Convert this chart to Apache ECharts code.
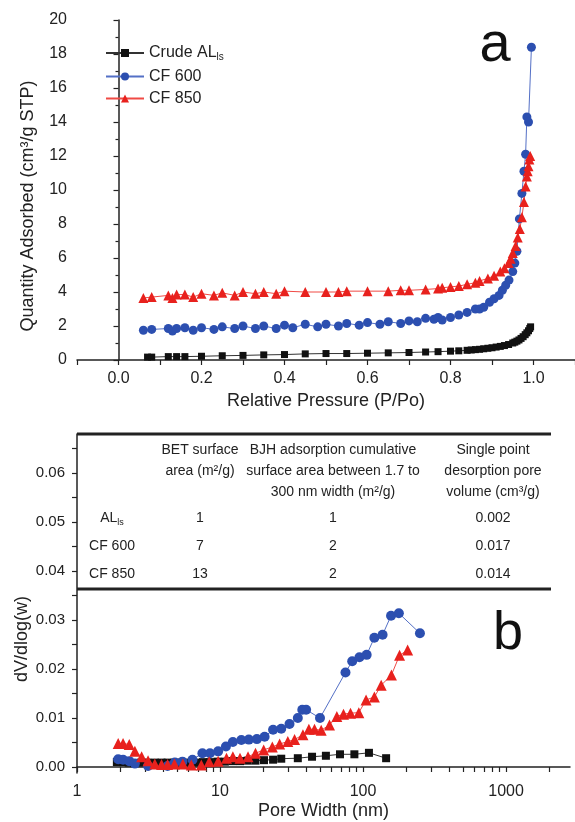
<!DOCTYPE html>
<html>
<head>
<meta charset="utf-8">
<script src="https://cdn.jsdelivr.net/npm/echarts@6/dist/echarts.min.js"></script>
<style>
  html, body { margin: 0; padding: 0; background: #fff; }
  #chart { width: 575px; height: 822px; }
</style>
</head>
<body>
<div id="chart"></div>
<script>
// --- (a) N2 isotherm: relative pressure vs quantity adsorbed
const crudeP = [0.07,0.08,0.12,0.14,0.16,0.20,0.25,0.30,0.35,0.40,0.45,0.50,0.55,0.60,0.65,0.70,0.74,0.77,0.80,0.82,0.84,0.85,0.86,0.87,0.88,0.89,0.90,0.91,0.92,0.93,0.94,0.95,0.955,0.96,0.965,0.97,0.975,0.98,0.984,0.988,0.991,0.993];
const crudeQ = [0.17,0.17,0.2,0.2,0.2,0.22,0.25,0.27,0.3,0.32,0.36,0.38,0.38,0.4,0.42,0.44,0.47,0.49,0.52,0.54,0.57,0.59,0.61,0.63,0.66,0.69,0.72,0.76,0.80,0.85,0.91,1.0,1.05,1.11,1.18,1.27,1.37,1.49,1.6,1.72,1.85,1.95];
const cf600P = [0.06,0.08,0.12,0.13,0.14,0.16,0.18,0.20,0.23,0.25,0.28,0.30,0.33,0.35,0.38,0.40,0.42,0.45,0.48,0.50,0.53,0.55,0.58,0.60,0.63,0.65,0.68,0.70,0.72,0.74,0.76,0.77,0.78,0.80,0.82,0.84,0.86,0.87,0.88,0.894,0.905,0.917,0.925,0.933,0.941,0.95,0.955,0.96,0.966,0.972,0.977,0.981,0.984,0.988,0.995];
const cf600Q = [1.75,1.8,1.85,1.7,1.85,1.9,1.75,1.9,1.8,1.95,1.85,2.0,1.85,2.0,1.85,2.05,1.9,2.1,1.95,2.1,2.0,2.15,2.05,2.2,2.1,2.25,2.15,2.3,2.25,2.45,2.4,2.5,2.35,2.5,2.65,2.8,3.0,3.0,3.1,3.4,3.6,3.8,4.1,4.4,4.7,5.2,5.7,6.4,8.3,9.8,11.1,12.1,14.3,14.0,18.4];
const cf850P = [0.06,0.08,0.12,0.13,0.14,0.16,0.18,0.20,0.23,0.25,0.28,0.30,0.33,0.35,0.38,0.40,0.45,0.50,0.53,0.55,0.60,0.65,0.68,0.70,0.74,0.77,0.78,0.80,0.82,0.84,0.86,0.87,0.89,0.905,0.92,0.93,0.94,0.945,0.95,0.957,0.962,0.967,0.972,0.977,0.981,0.984,0.986,0.988,0.99,0.992];
const cf850Q = [3.65,3.7,3.8,3.65,3.85,3.85,3.7,3.9,3.8,3.95,3.8,4.0,3.9,4.0,3.9,4.05,4.0,4.0,4.0,4.05,4.05,4.05,4.1,4.1,4.15,4.2,4.25,4.3,4.35,4.45,4.55,4.65,4.8,4.95,5.2,5.4,5.7,5.95,6.3,6.7,7.2,7.7,8.4,9.3,10.2,10.8,11.1,11.4,11.8,12.0];

// --- (b) BJH pore size distribution: pore width (nm) vs dV/dlog(w)
const crudeW = [1.9,2.1,2.3,2.5,2.8,3.1,3.5,3.9,4.3,4.8,5.4,6.1,6.8,7.6,8.5,9.6,10.8,12.2,13.8,15.6,17.7,20.3,23.5,26.8,35,44,55,69,87,110,145];
const crudeDv = [0.0010,0.0010,0.0009,0.0008,0.0009,0.0009,0.0009,0.0009,0.0009,0.0009,0.0009,0.0009,0.0009,0.0010,0.0010,0.0011,0.0011,0.0012,0.0012,0.0013,0.0013,0.0014,0.0015,0.0017,0.0018,0.0021,0.0023,0.0026,0.0026,0.0029,0.0018];
const cf600W = [1.94,2.1,2.32,2.54,3.14,4.3,4.83,5.46,6.42,7.53,8.5,9.7,11.0,12.3,14.1,15.9,18.1,20.5,23.5,26.8,30.6,35,37.6,40,50,75.4,84,94.4,106,120,137,157,178,250];
const cf600Dv = [0.0016,0.0015,0.0012,0.0007,0.0002,0.0002,0.0009,0.0011,0.0015,0.0028,0.0028,0.0032,0.0042,0.0051,0.0055,0.0056,0.0057,0.0062,0.0076,0.0078,0.0088,0.0100,0.0117,0.0117,0.0100,0.0193,0.0216,0.0224,0.0229,0.0264,0.0270,0.0309,0.0314,0.0273];
const cf850W = [1.94,2.1,2.32,2.54,2.83,3.14,3.5,3.9,4.3,4.8,5.5,6.3,7.4,8.4,9.7,11.1,12.3,13.8,15.7,17.7,20.2,23.2,26.1,29.8,33.2,38,41.8,45.8,51,58.3,65.6,73,81.7,93.4,105,120,134,158,180,205];
const cf850Dv = [0.0048,0.0048,0.0046,0.0032,0.0021,0.0013,0.0006,0.0005,0.0005,0.0006,0.0006,0.0004,0.0004,0.0011,0.0012,0.0018,0.0021,0.0018,0.0021,0.0028,0.0035,0.0041,0.0047,0.0052,0.0056,0.0066,0.0077,0.0077,0.0075,0.0086,0.0103,0.0108,0.0110,0.0111,0.0137,0.0143,0.0167,0.0188,0.0228,0.0239];

// --- inset table
const tableSamples = ['AL_ls', 'CF 600', 'CF 850'];
const betArea = [1, 7, 13];
const bjhArea = [1, 2, 2];
const poreVolume = ['0.002', '0.017', '0.014'];
const tableHead = [
  ['BET surface', 'area (m²/g)'],
  ['BJH adsorption cumulative', 'surface area between 1.7 to', '300 nm width (m²/g)'],
  ['Single point', 'desorption pore', 'volume (cm³/g)']
];

// --- ticks
const pressureTicks = [-0.1, 0, 0.1, 0.2, 0.3, 0.4, 0.5, 0.6, 0.7, 0.8, 0.9, 1.0, 1.1];
const pressureLabels = [0, 0.2, 0.4, 0.6, 0.8, 1.0];
const dvTicks = [0, 0.005, 0.01, 0.015, 0.02, 0.025, 0.03, 0.035, 0.04, 0.045, 0.05, 0.055, 0.06, 0.065];
const dvLabels = [0, 0.01, 0.02, 0.03, 0.04, 0.05, 0.06];
const widthLabels = [1, 10, 100, 1000];
const widthTicks = [];
[1, 10, 100, 1000].forEach(d => { for (let k = 1; k <= 9; k++) if (d * k <= 2800) widthTicks.push(d * k); });

const seriesNames = ['Crude ALls', 'CF 600', 'CF 850'];
const zip = (a, b) => a.map((v, i) => [v, b[i]]);

const FONT = '"Liberation Sans", Arial, sans-serif';
const NARROW = '"Liberation Sans Narrow", "Liberation Sans", sans-serif';
const INK = '#222';

const styles = [
  { symbol: 'rect', size: 7, color: '#111', line: '#333' },
  { symbol: 'circle', size: 9, color: '#2c4fb0', line: '#5470c6' },
  { symbol: 'triangle', size: 10, color: '#e8211d', line: '#f04a45' }
];

const axisBase = {
  axisLine: { lineStyle: { color: INK, width: 1.5 } },
  axisTick: { length: 5, lineStyle: { color: INK, width: 1.2 } },
  splitLine: { show: false },
  nameTextStyle: { color: INK, fontSize: 18, fontFamily: FONT }
};

function mkSeries(i, data, grid) {
  const s = styles[i];
  return {
    name: seriesNames[i],
    type: 'line',
    xAxisIndex: grid,
    yAxisIndex: grid,
    data: data,
    symbol: s.symbol,
    symbolSize: grid === 1 ? s.size + 1 : s.size,
    itemStyle: { color: s.color },
    lineStyle: { color: s.line, width: 1 },
    animation: false
  };
}

const chart = echarts.init(document.getElementById('chart'), null, { renderer: 'canvas' });

const tableTexts = [];
const colX = [200, 333, 493];
const headY = [450, 471, 492];
const rowY = [518, 546, 574];
tableHead.forEach((lines, c) => {
  lines.forEach((t, r) => {
    tableTexts.push({ type: 'text', x: colX[c], y: headY[r],
      style: { text: t, font: '14px ' + NARROW, fill: INK, textAlign: 'center', verticalAlign: 'middle' } });
  });
});
tableSamples.forEach((name, r) => {
  const txt = name === 'AL_ls' ? '{m|AL}{s|ls}' : '{m|' + name + '}';
  tableTexts.push({ type: 'text', x: 112, y: rowY[r],
    style: { text: txt, fill: INK, textAlign: 'center', verticalAlign: 'middle',
      rich: { m: { fontSize: 14, fontFamily: NARROW, fill: INK }, s: { fontSize: 9, fontFamily: NARROW, fill: INK, padding: [9, 0, 0, 0] } } } });
  [betArea[r], bjhArea[r], poreVolume[r]].forEach((v, c) => {
    tableTexts.push({ type: 'text', x: colX[c], y: rowY[r],
      style: { text: String(v), font: '14px ' + NARROW, fill: INK, textAlign: 'center', verticalAlign: 'middle' } });
  });
});

chart.setOption({
  backgroundColor: '#fff',
  animation: false,
  textStyle: { fontFamily: FONT },
  legend: {
    data: seriesNames,
    orient: 'vertical',
    left: 100,
    top: 40,
    itemWidth: 38,
    itemHeight: 10,
    itemGap: 6,
    formatter: name => name === seriesNames[0] ? '{t|Crude AL}{s|ls}' : '{t|' + name + '}',
    textStyle: {
      color: INK,
      rich: {
        t: { fontSize: 16, fontFamily: FONT, color: INK },
        s: { fontSize: 10, fontFamily: FONT, color: INK, padding: [9, 0, 0, 0] }
      }
    }
  },
  grid: [
    { left: 77, top: 20, width: 501, height: 340 },
    { left: 77, top: 434, width: 493, height: 339 }
  ],
  xAxis: [
    Object.assign({}, axisBase, {
      type: 'value', gridIndex: 0, min: -0.1, max: 1.1,
      name: 'Relative Pressure (P/Po)', nameLocation: 'middle', nameGap: 32,
      axisTick: Object.assign({}, axisBase.axisTick, { customValues: pressureTicks }),
      axisLabel: { customValues: pressureLabels, color: INK, fontSize: 16, fontFamily: FONT, margin: 11,
        formatter: v => v.toFixed(1) }
    }),
    Object.assign({}, axisBase, {
      type: 'log', logBase: 10, gridIndex: 1, min: 1, max: 2800,
      name: 'Pore Width (nm)', nameLocation: 'middle', nameGap: 29,
      axisTick: Object.assign({}, axisBase.axisTick, { customValues: widthTicks }),
      axisLabel: { customValues: widthLabels, color: INK, fontSize: 16, fontFamily: FONT, margin: 11,
        formatter: v => String(Math.round(v)) }
    })
  ],
  yAxis: [
    Object.assign({}, axisBase, {
      type: 'value', gridIndex: 0, min: 0, max: 20, interval: 2,
      minorTick: { show: true, splitNumber: 2, length: 3, lineStyle: { color: INK, width: 1.2 } },
      axisLabel: { color: INK, fontSize: 16, fontFamily: FONT, margin: 10 }
    }),
    Object.assign({}, axisBase, {
      type: 'value', gridIndex: 1, min: -0.00122, max: 0.068,
      axisTick: Object.assign({}, axisBase.axisTick, { customValues: dvTicks }),
      axisLabel: { customValues: dvLabels, color: INK, fontSize: 15, fontFamily: FONT, margin: 12,
        formatter: v => v.toFixed(2) }
    })
  ],
  series: [
    mkSeries(0, zip(crudeP, crudeQ), 0),
    mkSeries(1, zip(cf600P, cf600Q), 0),
    mkSeries(2, zip(cf850P, cf850Q), 0),
    mkSeries(0, zip(crudeW, crudeDv), 1),
    mkSeries(1, zip(cf600W, cf600Dv), 1),
    mkSeries(2, zip(cf850W, cf850Dv), 1)
  ],
  graphic: [
    { type: 'text', x: 28, y: 206, rotation: Math.PI / 2,
      style: { text: 'Quantity Adsorbed (cm³/g STP)', font: '18px ' + FONT, fill: INK, textAlign: 'center', verticalAlign: 'middle' } },
    { type: 'text', x: 22, y: 639, rotation: Math.PI / 2,
      style: { text: 'dV/dlog(w)', font: '18px ' + FONT, fill: INK, textAlign: 'center', verticalAlign: 'middle' } },
    { type: 'text', x: 495, y: 46,
      style: { text: 'a', font: '56px ' + FONT, fill: '#111', textAlign: 'center', verticalAlign: 'middle' } },
    { type: 'text', x: 508, y: 634,
      style: { text: 'b', font: '54px ' + FONT, fill: '#111', textAlign: 'center', verticalAlign: 'middle' } },
    { type: 'line', shape: { x1: 77, y1: 434, x2: 551, y2: 434 }, style: { stroke: INK, lineWidth: 3 } },
    { type: 'line', shape: { x1: 77, y1: 589, x2: 551, y2: 589 }, style: { stroke: INK, lineWidth: 3 } }
  ].concat(tableTexts)
});
</script>
</body>
</html>
